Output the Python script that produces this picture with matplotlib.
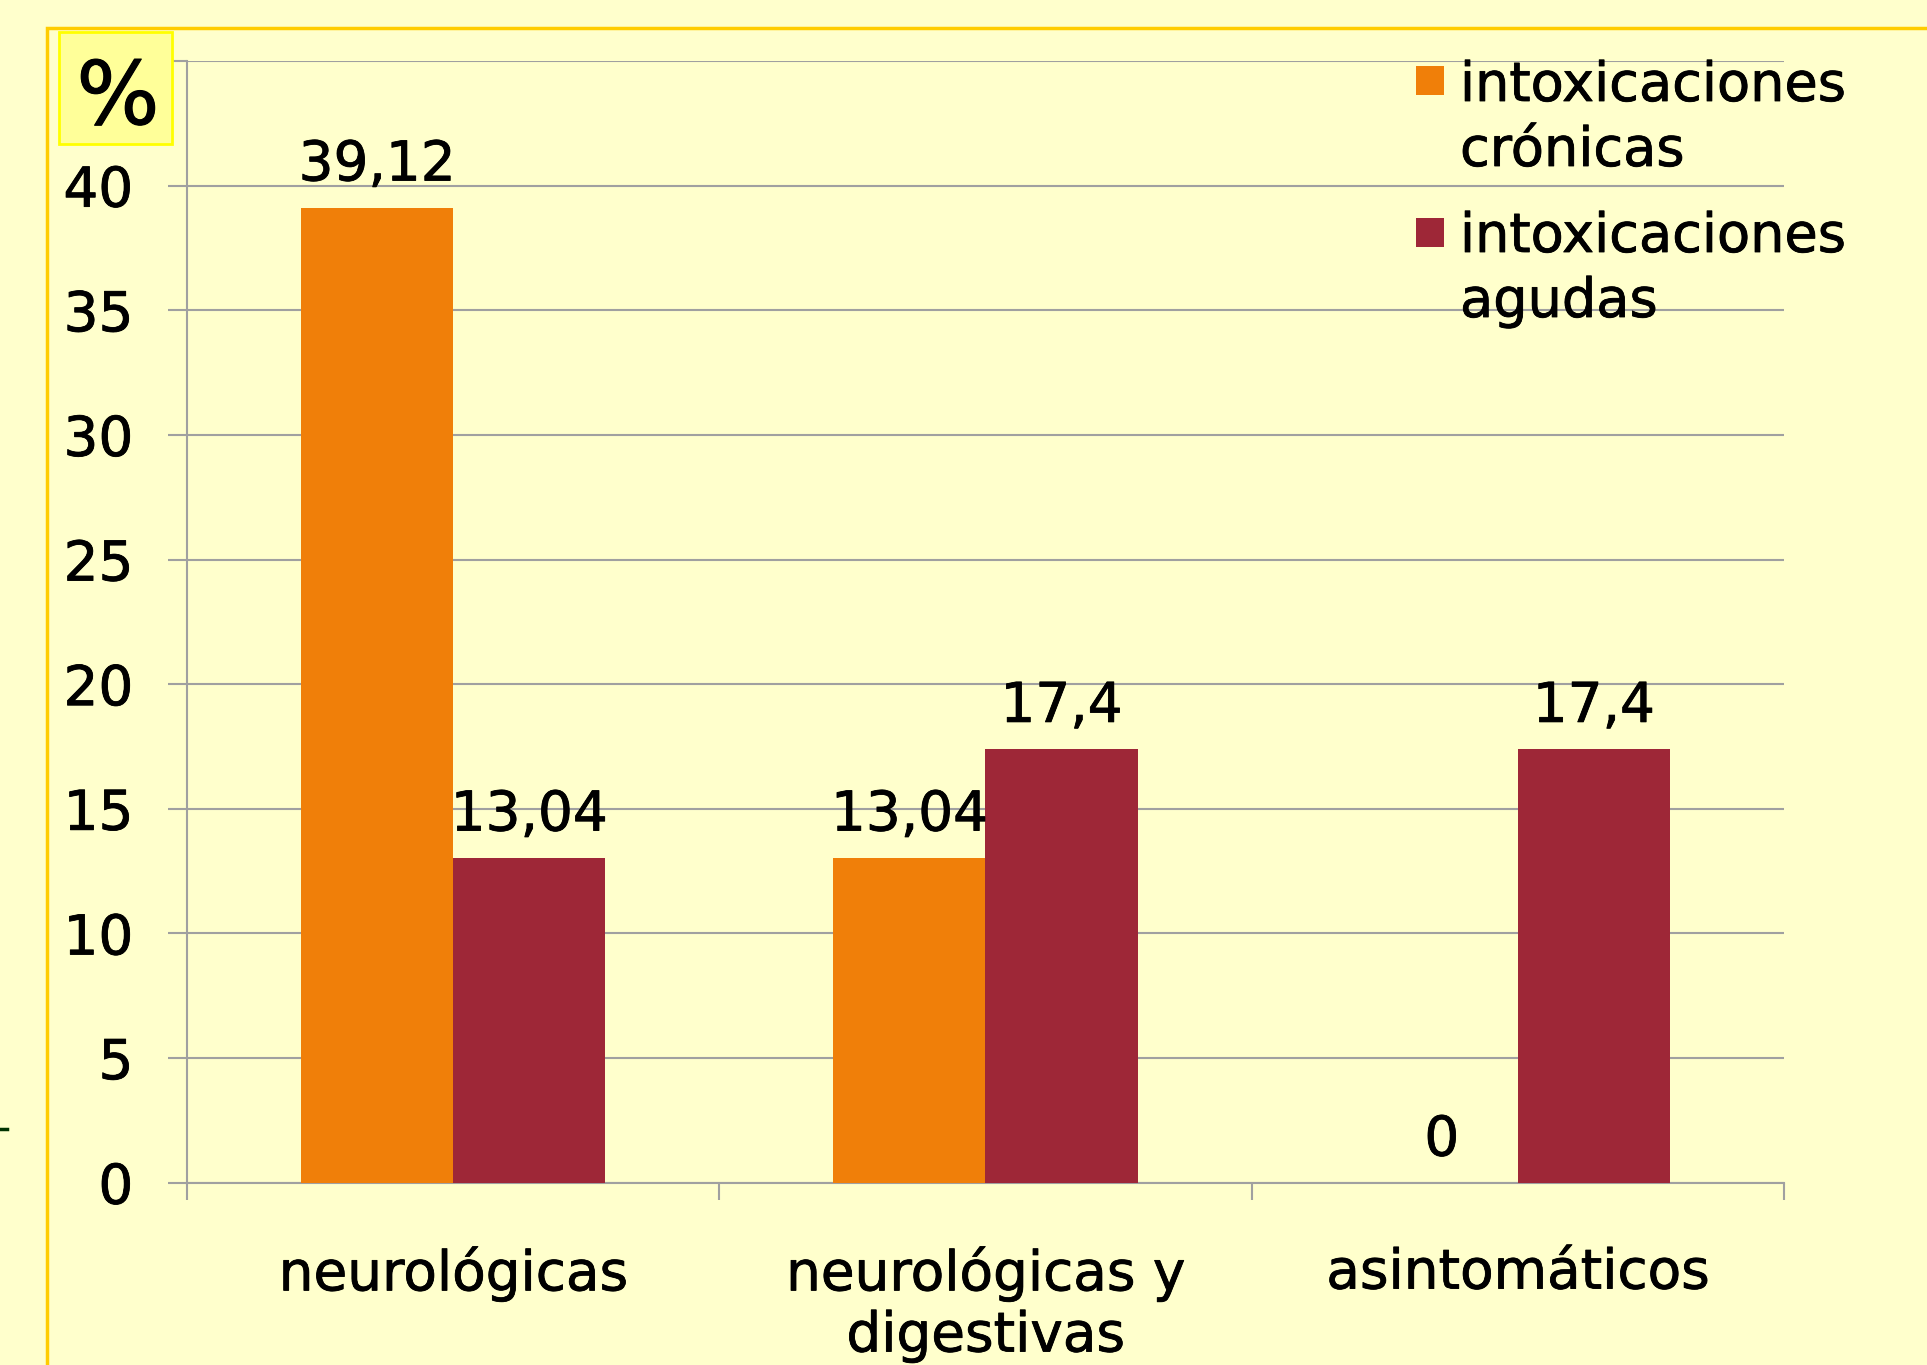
import matplotlib
matplotlib.use("Agg")
import matplotlib.pyplot as plt
import matplotlib.patheffects as pe
import numpy as np
from matplotlib.patches import Rectangle
from matplotlib.lines import Line2D

categories = ["neurológicas", "neurológicas y\ndigestivas", "asintomáticos"]
series_names = ["intoxicaciones\ncrónicas", "intoxicaciones\nagudas"]
cronicas = [39.12, 13.04, 0]
agudas = [13.04, 17.4, 17.4]
value_labels_cronicas = ["39,12", "13,04", "0"]
value_labels_agudas = ["13,04", "17,4", "17,4"]
yticks = [0, 5, 10, 15, 20, 25, 30, 35, 40, 45]
ytick_labels = ["0", "5", "10", "15", "20", "25", "30", "35", "40", ""]

BG = "#FFFFCC"
ORANGE = "#F07F09"
RED = "#9E2737"
GRID = "#A0A0A0"
FS = 39.5
PE = [pe.withStroke(linewidth=0.6, foreground="black")]

plt.rcParams['font.family'] = ['DejaVu Sans']

W, H = 1927, 1365
fig = plt.figure(figsize=(W / 100, H / 100), dpi=100, facecolor=BG)

def fx(px):
    return px / W

def fy(py):
    return 1 - py / H

ax = fig.add_axes([fx(187), fy(1182.7), fx(1784) - fx(187), fy(61) - fy(1182.7)])
ax.set_facecolor(BG)

x = np.arange(len(categories))
bw = 1 / 3.5
b1 = ax.bar(x - bw / 2, cronicas, bw, color=ORANGE, zorder=3, linewidth=0)
b2 = ax.bar(x + bw / 2, agudas, bw, color=RED, zorder=3, linewidth=0)

for bars, labs in ((b1, value_labels_cronicas), (b2, value_labels_agudas)):
    for rect, lab in zip(bars, labs):
        ax.annotate(lab, (rect.get_x() + rect.get_width() / 2, rect.get_height()),
                    xytext=(0, 19.5), textcoords="offset points",
                    ha="center", va="baseline", fontsize=FS, color="black", zorder=5,
                    path_effects=PE)

ax.set_xlim(-0.5, 2.5)
ax.set_ylim(0, 45)
ax.set_yticks(yticks)
ax.set_yticklabels(ytick_labels)
ax.yaxis.grid(True, color=GRID, linewidth=1.5, zorder=1)
ax.set_axisbelow(True)

ax.set_xticks(x)
ax.set_xticklabels(categories, fontsize=FS, linespacing=1.17)
ax.set_xticks([-0.5, 0.5, 1.5, 2.5], minor=True)
ax.tick_params(axis="x", which="major", length=0, pad=46)
ax.tick_params(axis="x", which="minor", length=12.5, width=1.5, color=GRID)
ax.tick_params(axis="y", length=13.7, width=1.5, color=GRID, pad=25, labelsize=FS)
for t in ax.get_xticklabels() + ax.get_yticklabels():
    t.set_path_effects(PE)

for s in ("top", "right"):
    ax.spines[s].set_visible(False)
for s in ("left", "bottom"):
    ax.spines[s].set_color(GRID)
    ax.spines[s].set_linewidth(1.5)

# outer border
fig.add_artist(Rectangle((fx(47), fy(1400)), fx(2000) - fx(47), fy(28) - fy(1400),
                         transform=fig.transFigure, facecolor="none",
                         edgecolor="#FFCC00", linewidth=2.5, zorder=0))

# % box
fig.add_artist(Rectangle((fx(59), fy(144)), fx(172) - fx(59), fy(32) - fy(144),
                         transform=fig.transFigure, facecolor="#FFFF99",
                         edgecolor="#FFFF00", linewidth=2, zorder=10))
fig.text(fx(118), fy(100), "%", fontsize=63, ha="center", va="center", zorder=11,
         path_effects=[pe.withStroke(linewidth=0.8, foreground="black")])

# legend (manual)
colors = [ORANGE, RED]
sq_tops = [66, 218]
baselines = [(101, 166), (252, 317)]
for c, top, name, (bl1, bl2) in zip(colors, sq_tops, series_names, baselines):
    fig.add_artist(Rectangle((fx(1416), fy(top + 29)), fx(1444) - fx(1416), fy(top) - fy(top + 29),
                             transform=fig.transFigure, facecolor=c, edgecolor="none", zorder=10))
    l1, l2 = name.split("\n")
    fig.text(fx(1460), fy(bl1), l1, fontsize=39, ha="left", va="baseline", zorder=11,
             path_effects=PE)
    fig.text(fx(1460), fy(bl2), l2, fontsize=39, ha="left", va="baseline", zorder=11,
             path_effects=PE)

# small fragment at left edge
fig.add_artist(Line2D([0, fx(7)], [fy(1128.5), fy(1128.5)], transform=fig.transFigure,
                      color="#003300", linewidth=2.5))

fig.savefig("out.png", dpi=100, facecolor=BG)
